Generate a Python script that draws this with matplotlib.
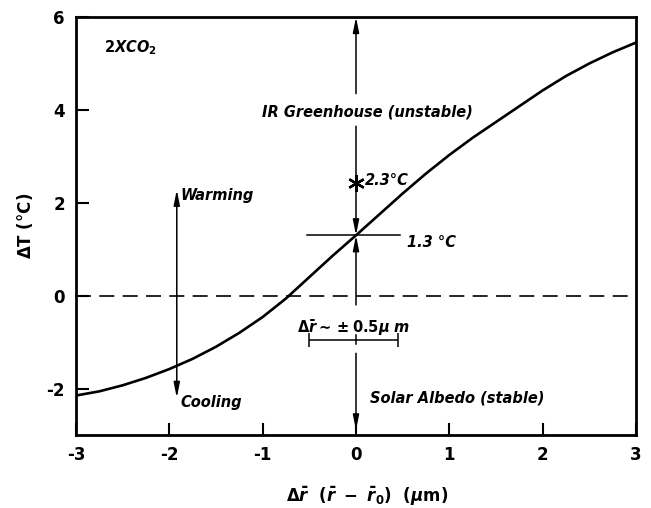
import matplotlib
matplotlib.use("Agg")
import matplotlib.pyplot as plt
import numpy as np

plt.rcParams['mathtext.fontset'] = 'custom'
plt.rcParams['mathtext.rm'] = 'DejaVu Sans:bold'
plt.rcParams['mathtext.it'] = 'DejaVu Sans:bold:italic'
plt.rcParams['mathtext.bf'] = 'DejaVu Sans:bold'

# curve: delta r (um) vs delta T (C)
dr = [-3.0, -2.75, -2.5, -2.25, -2.0, -1.75, -1.5, -1.25, -1.0, -0.75, -0.5, -0.25,
      0.0, 0.25, 0.5, 0.75, 1.0, 1.25, 1.5, 1.75, 2.0, 2.25, 2.5, 2.75, 3.0]
dT = [-2.15, -2.06, -1.93, -1.77, -1.58, -1.36, -1.1, -0.8, -0.46, -0.06, 0.4, 0.86,
      1.3, 1.75, 2.2, 2.63, 3.03, 3.4, 3.74, 4.08, 4.42, 4.73, 5.0, 5.24, 5.45]

x_ticks = [-3, -2, -1, 0, 1, 2, 3]
y_ticks = [-2, 0, 2, 4, 6]

t_base = 1.3      # model value
t_star = 2.43     # 2.3 C marker
err = 0.5         # +/- 0.5 um

fig = plt.figure(figsize=(6.51, 5.08), dpi=100)
ax = fig.add_axes([0.1167, 0.1437, 0.8603, 0.8228])

ax.plot(dr, dT, color='black', lw=1.9, zorder=3, solid_joinstyle='round')
ax.axhline(0, color='black', lw=1.2, dashes=(9, 5))

ax.set_xlim(-3, 3)
ax.set_ylim(-3, 6)
ax.set_xticks(x_ticks)
ax.set_yticks(y_ticks)
ax.set_xticklabels([str(v) for v in x_ticks])
ax.set_yticklabels([str(v) for v in y_ticks])
ax.tick_params(direction='in', length=9, width=1.5, labelsize=12, pad=8)
for lab in ax.get_xticklabels() + ax.get_yticklabels():
    lab.set_fontweight('bold')
for s in ax.spines.values():
    s.set_linewidth(2)

ax.set_xlabel(r'$\Delta\bar{r}\ \ (\bar{r}\ -\ \bar{r}_0)\ \ (\mu \mathrm{m})$', fontsize=12)
ax.xaxis.set_label_coords(0.52, -0.12)
ax.set_ylabel(r'$\Delta\mathrm{T\ (°C)}$', fontsize=12, labelpad=8)

arrow = dict(arrowstyle='-|>,head_length=0.9,head_width=0.18', color='black', lw=1.1,
             shrinkA=0, shrinkB=0)
fs = 10.5
tstyle = dict(fontsize=fs, fontweight='bold', style='italic', color='black')

# IR greenhouse arrows at x = 0
ax.annotate('', xy=(0, 6), xytext=(0, 4.35), arrowprops=arrow)
ax.annotate('', xy=(0, t_base), xytext=(0, 3.65), arrowprops=arrow)
ax.annotate('', xy=(0, t_base), xytext=(0, -0.2), arrowprops=arrow)
ax.text(0.12, 3.95, 'IR Greenhouse (unstable)', ha='center', va='center', **tstyle)

# 2.3 C marker and 1.3 C crossbar
ax.plot([0], [t_star], marker=(6, 2, 0), ms=12, mew=1.7, color='black', zorder=4)
ax.text(0.1, t_star + 0.05, '2.3°C', ha='left', va='center', **tstyle)
ax.plot([-0.52, 0.47], [t_base, t_base], color='black', lw=1.1)
ax.text(0.55, t_base - 0.15, '1.3 °C', ha='left', va='center', **tstyle)

# particle size uncertainty bar
ax.text(-0.02, -0.68, r'$\Delta\bar{r}\sim\pm0.5\mu\ m$', ha='center', va='center',
        fontsize=fs)
ax.errorbar([0], [-0.95], xerr=[[err], [err - 0.05]], fmt='none', ecolor='black',
            elinewidth=1.1, capsize=5, capthick=1.1)
ax.plot([0, 0], [-0.85, -1.05], color='black', lw=1.1)

# solar albedo arrow
ax.annotate('', xy=(0, -2.9), xytext=(0, -1.24), arrowprops=arrow)
ax.text(0.15, -2.2, 'Solar Albedo (stable)', ha='left', va='center', **tstyle)

# warming / cooling arrows
ax.annotate('', xy=(-1.92, 2.28), xytext=(-1.92, 0.0), arrowprops=arrow)
ax.annotate('', xy=(-1.92, -2.2), xytext=(-1.92, 0.0), arrowprops=arrow)
ax.text(-1.88, 2.15, 'Warming', ha='left', va='center', **tstyle)
ax.text(-1.88, -2.3, 'Cooling', ha='left', va='center', **tstyle)

ax.text(-2.7, 5.35, r'$2XCO_2$', ha='left', va='center', fontsize=fs)

fig.savefig('out.png', dpi=100)
